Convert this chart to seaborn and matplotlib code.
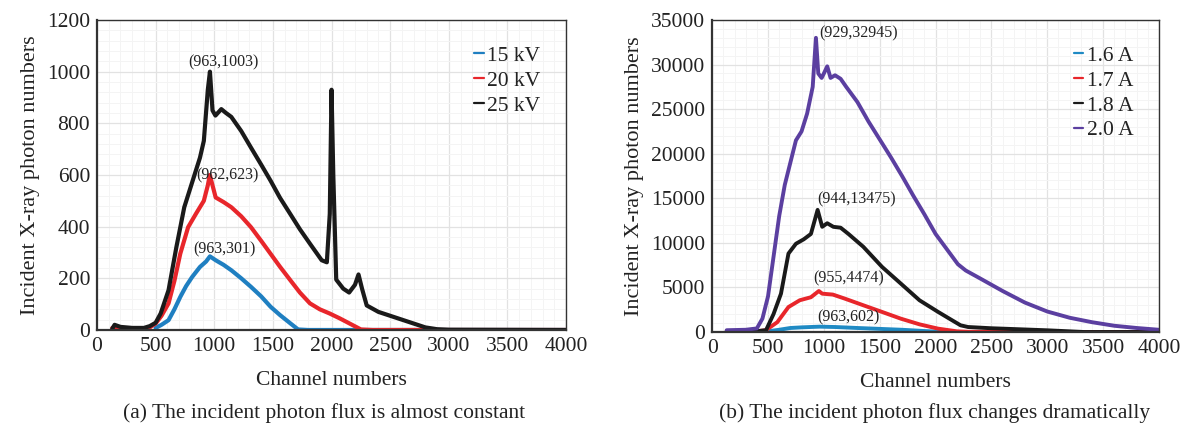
import numpy as np
import pandas as pd
import matplotlib
matplotlib.use("Agg")
import matplotlib.pyplot as plt
import seaborn as sns
from matplotlib.ticker import MultipleLocator
from matplotlib.lines import Line2D

# ---------------- data ----------------
# Panel (a): tube voltage
ch_15kv = [500, 550, 610, 660, 710, 760, 811, 878, 930, 963, 1012, 1080, 1146, 1230, 1313, 1400, 1480, 1560, 1648, 1715, 1800, 4000]
v_15kv = [8, 20, 38, 80, 128, 170, 205, 244, 265, 285, 270, 252, 231, 200, 167, 130, 90, 58, 26, 2, 0, 0]

ch_20kv = [130, 200, 400, 450, 500, 550, 610, 660, 710, 777, 844, 911, 945, 962, 1012, 1080, 1146, 1230, 1313, 1400, 1480, 1560, 1648, 1730, 1816, 1900, 1983, 2070, 2150, 2251, 2350, 4000]
v_20kv = [8, 6, 6, 10, 25, 55, 103, 190, 295, 398, 450, 500, 560, 600, 513, 495, 475, 440, 398, 345, 295, 245, 193, 145, 103, 80, 64, 45, 26, 2, 0, 0]

ch_25kv = [130, 150, 200, 300, 400, 450, 500, 543, 610, 677, 744, 811, 878, 911, 945, 963, 985, 1010, 1060, 1100, 1145, 1230, 1313, 1400, 1480, 1560, 1648, 1730, 1816, 1916, 1960, 1985, 2000, 2015, 2040, 2100, 2150, 2200, 2230, 2260, 2300, 2400, 2500, 2600, 2700, 2800, 2900, 3000, 4000]
v_25kv = [5, 20, 12, 8, 8, 15, 28, 64, 154, 321, 475, 571, 667, 732, 930, 1000, 850, 830, 855, 840, 825, 770, 706, 640, 578, 512, 449, 390, 334, 270, 262, 450, 930, 600, 195, 160, 145, 175, 215, 160, 95, 70, 55, 40, 25, 10, 3, 1, 0]

# Panel (b): tube current
ch_16a = [130, 400, 500, 600, 700, 800, 900, 963, 1100, 1300, 1500, 1700, 1900, 2000, 2200, 4000]
v_16a = [50, 60, 80, 250, 450, 520, 570, 600, 560, 450, 350, 250, 110, 50, 0, 0]

ch_17a = [130, 400, 480, 583, 683, 784, 884, 955, 985, 1080, 1186, 1353, 1521, 1688, 1856, 2023, 2191, 2300, 2500, 2700, 2900, 3000, 4000]
v_17a = [80, 80, 200, 1100, 2800, 3560, 3900, 4600, 4300, 4200, 3750, 3000, 2250, 1500, 860, 375, 75, 20, 40, 90, 40, 0, 0]

ch_18a = [130, 400, 482, 549, 616, 683, 750, 820, 884, 944, 985, 1030, 1085, 1150, 1220, 1353, 1521, 1688, 1856, 2023, 2150, 2224, 2291, 2500, 2700, 3000, 3330, 4000]
v_18a = [100, 100, 200, 2000, 4300, 8800, 9900, 10400, 11000, 13700, 11800, 12200, 11800, 11700, 11000, 9560, 7300, 5440, 3560, 2250, 1300, 750, 560, 420, 330, 190, 0, 0]

ch_20a = [130, 300, 400, 450, 500, 550, 600, 650, 700, 750, 800, 850, 900, 929, 950, 980, 1000, 1030, 1060, 1100, 1150, 1200, 1300, 1400, 1500, 1600, 1700, 1800, 1900, 2000, 2100, 2200, 2270, 2400, 2600, 2800, 3000, 3200, 3400, 3600, 3800, 4000]
v_20a = [200, 250, 400, 1500, 4000, 8500, 13000, 16500, 19000, 21500, 22500, 24500, 27500, 33000, 29000, 28500, 29000, 29800, 28500, 28800, 28400, 27500, 25800, 23600, 21600, 19600, 17500, 15300, 13200, 11000, 9300, 7600, 6900, 6000, 4600, 3300, 2300, 1600, 1100, 700, 450, 250]

labels_a = ["15 kV", "20 kV", "25 kV"]
labels_b = ["1.6 A", "1.7 A", "1.8 A", "2.0 A"]
colors_a = ["#1f7fc1", "#e8262b", "#1a1a1a"]
colors_b = ["#1f8ac4", "#e8262b", "#1a1a1a", "#5b3fa0"]

ann_a = [("(963,1003)", 1080, 1035), ("(962,623)", 1115, 600), ("(963,301)", 1090, 312)]
ann_b = [("(929,32945)", 960, 33500), ("(944,13475)", 945, 14900), ("(955,4474)", 905, 6000), ("(963,602)", 945, 1650)]

# ---------------- build tables ----------------
def long_df(chs, vals, labels):
    parts = []
    for c, v, l in zip(chs, vals, labels):
        parts.append(pd.DataFrame({"channel": c, "counts": v, "series": l}))
    return pd.concat(parts, ignore_index=True)

df_a = long_df([ch_15kv, ch_20kv, ch_25kv], [v_15kv, v_20kv, v_25kv], labels_a)
df_b = long_df([ch_16a, ch_17a, ch_18a, ch_20a], [v_16a, v_17a, v_18a, v_20a], labels_b)

# ---------------- figure ----------------
sns.set_theme(style="white")
plt.rcParams["font.family"] = ["Liberation Serif", "DejaVu Serif"]

fig = plt.figure(figsize=(11.83, 4.29), dpi=100)
ax1 = fig.add_axes([0.082, 0.2308, 0.3965, 0.7226])
ax2 = fig.add_axes([0.602, 0.2261, 0.3777, 0.7273])

FS_TICK = 15.5
FS_LAB = 15.5

def style_axes(ax, ymax, ymajor, yminor):
    ax.set_xlim(0, 4000)
    ax.set_ylim(0, ymax)
    ax.xaxis.set_major_locator(MultipleLocator(500))
    ax.xaxis.set_minor_locator(MultipleLocator(100))
    ax.yaxis.set_major_locator(MultipleLocator(ymajor))
    ax.yaxis.set_minor_locator(MultipleLocator(yminor))
    ax.grid(True, which="major", color="#e2e2e2", linewidth=0.9)
    ax.grid(True, which="minor", color="#f4f4f4", linewidth=0.7)
    ax.set_axisbelow(True)
    for s in ax.spines.values():
        s.set_visible(True)
        s.set_color("#333333")
        s.set_linewidth(1.0)
    ax.spines["left"].set_linewidth(1.6)
    ax.spines["bottom"].set_linewidth(1.6)
    ax.tick_params(axis="both", which="both", length=0, labelsize=FS_TICK, colors="#222222", pad=5)
    ax.set_xlabel("Channel numbers", fontsize=FS_LAB, color="#222222", labelpad=11)
    ax.set_ylabel("Incident X-ray photon numbers", fontsize=FS_LAB + 0.5, color="#222222", labelpad=5)

sns.lineplot(data=df_a, x="channel", y="counts", hue="series", palette=colors_a,
             hue_order=labels_a, ax=ax1, linewidth=3.0, legend=False, estimator=None, sort=False)
sns.lineplot(data=df_b, x="channel", y="counts", hue="series", palette=colors_b,
             hue_order=labels_b, ax=ax2, linewidth=2.8, legend=False, estimator=None, sort=False)

style_axes(ax1, 1200, 200, 40)
style_axes(ax2, 35000, 5000, 1000)

for ax, labels, colors in [(ax1, labels_a, colors_a), (ax2, labels_b, colors_b)]:
    handles = [Line2D([0], [0], color=c, lw=1.6) for c in colors]
    leg = ax.legend(handles, labels, loc="upper right", frameon=False, fontsize=FS_LAB,
                    handlelength=0.45, handletextpad=0.15, labelspacing=0.22,
                    borderaxespad=0.8)
    for t in leg.get_texts():
        t.set_color("#222222")

for txt, x, y in ann_a:
    ax1.text(x, y, txt, fontsize=11.5, ha="center", va="center", color="#222222")
for txt, x, y in ann_b:
    ax2.text(x, y, txt, fontsize=11.5, ha="left", va="center", color="#222222")

fig.text(0.274, 0.038, "(a) The incident photon flux is almost constant", ha="center", va="center",
         fontsize=15.5, color="#222222")
fig.text(0.79, 0.038, "(b) The incident photon flux changes dramatically", ha="center", va="center",
         fontsize=15.5, color="#222222")

fig.savefig("out.png", dpi=100, facecolor="white")
